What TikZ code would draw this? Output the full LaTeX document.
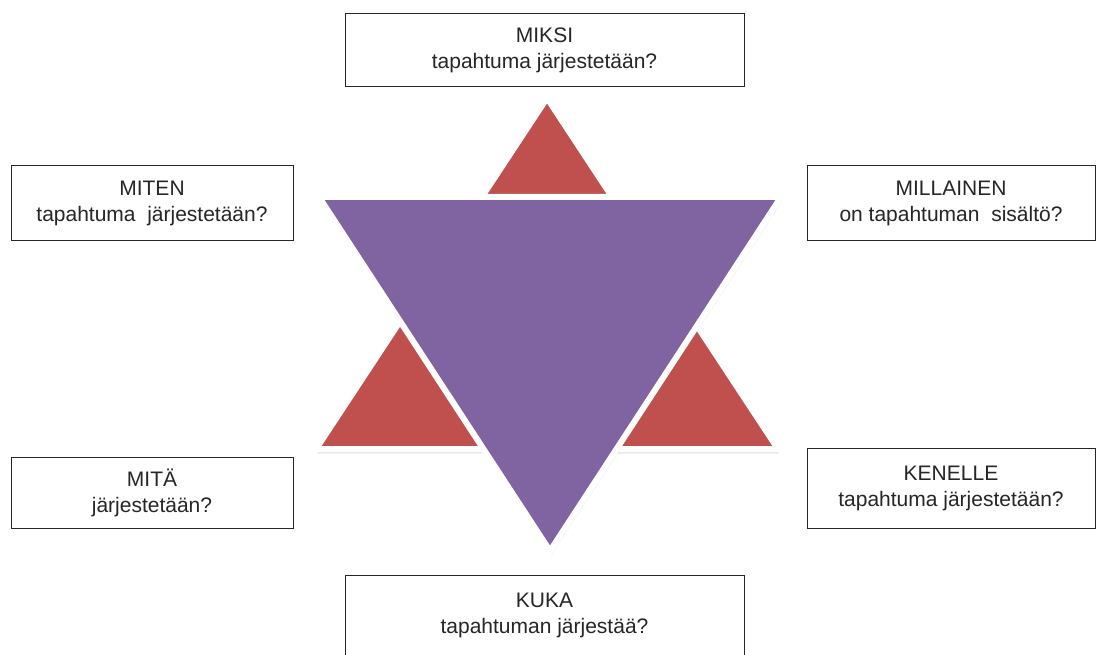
\documentclass[tikz,border=0pt]{standalone}
\usepackage{fontspec}
\setmainfont{Liberation Sans}
\usetikzlibrary{shadows}

\definecolor{starred}{HTML}{C0504D}
\definecolor{starpurple}{HTML}{8064A2}

\begin{document}
\begin{tikzpicture}[
    x=1pt, y=-1pt,
    box/.style={rectangle, draw=black!85, line width=1pt, fill=white, align=center,
        inner sep=0pt, font=\fontsize{21}{26}\selectfont, text=black!85},
    tri/.style={draw=white, line width=6pt, line join=miter,
        drop shadow={opacity=0.2, shadow xshift=1pt, shadow yshift=-4.5pt}}
]
\useasboundingbox (0,0) rectangle (1096,655);

% Star
\draw[tri, fill=starred] (547,98) -- (778,449) -- (316,449) -- cycle;
\draw[tri, fill=starpurple] (319,197) -- (781,197) -- (550,551) -- cycle;

% Top and bottom
\node[box, minimum width=399pt, minimum height=73pt] (miksi) at (544.5,50.5)
    {MIKSI\\tapahtuma järjestetään?};
\node[box, minimum width=399pt, minimum height=80pt] (kuka) at (544.5,615)
    {KUKA\\tapahtuman järjestää?};

% Left side
\node[box, minimum width=282pt, minimum height=75pt] (miten) at (152,203.5)
    {MITEN\\tapahtuma\ \ järjestetään?};
\node[box, minimum width=282pt, minimum height=71pt] (mita) at (152,492.5)
    {MITÄ\\järjestetään?};

% Right side
\node[box, minimum width=288pt, minimum height=75pt] (millainen) at (951,203.5)
    {MILLAINEN\\on tapahtuman\ \ sisältö?};
\node[box, minimum width=288pt, minimum height=80pt] (kenelle) at (951,488)
    {KENELLE\\tapahtuma järjestetään?};

\end{tikzpicture}
\end{document}
